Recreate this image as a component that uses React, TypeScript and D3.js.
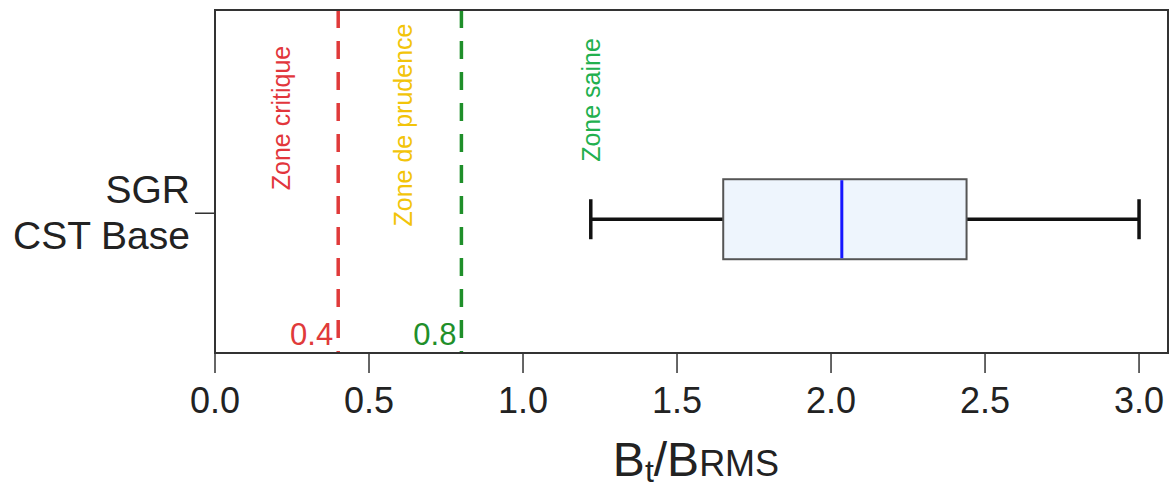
import React from 'react'
import * as d3 from 'd3'

// single box for SGR / CST Base
const category = ['SGR', 'CST Base']
const boxStats = [{ low: 1.22, q1: 1.65, median: 2.035, q3: 2.44, high: 3.0 }]

// reference points (limit / precautionary)
const refValues = [0.4, 0.8]
const refLabels = ['0.4', '0.8']
const refColors = ['#e03a3a', '#1f8f2a']

// zone names written vertically in the plot
const zoneNames = ['Zone critique', 'Zone de prudence', 'Zone saine']
const zonePos = [0.215, 0.61, 1.22]
const zoneColors = ['#e2363c', '#f2c40a', '#22b04e']

const xTicks = [0, 0.5, 1, 1.5, 2, 2.5, 3]

const W = 1170
const H = 490
const margin = { left: 215, right: 2, top: 10, bottom: 137 }
const font = 'Liberation Sans, Arial, sans-serif'

export default function App() {
  const x = d3.scaleLinear().domain([0, 3.094]).range([margin.left, W - margin.right])
  const y = d3.scaleLinear().domain([0, 1]).range([H - margin.bottom, margin.top])

  const plotTop = y(1)
  const plotBottom = y(0)
  const catY = y(0.39)
  const boxHalf = 40
  const s = boxStats[0]

  return (
    <svg width={W} height={H} viewBox={`0 0 ${W} ${H}`}
      style={{ position: 'absolute', left: 0, top: 0, background: '#fff', fontFamily: font }}>
      {/* dashed reference lines */}
      {refValues.map((v, i) => (
        <g key={'ref' + i}>
          <line x1={x(v)} x2={x(v)} y1={plotTop} y2={plotBottom}
            stroke={refColors[i]} strokeWidth={3.5} strokeDasharray="18,13" />
          <text x={x(v) - 5} y={plotBottom - 8} textAnchor="end" fontSize={31} fill={refColors[i]}>
            {refLabels[i]}
          </text>
        </g>
      ))}

      {/* zone labels */}
      {zoneNames.map((z, i) => {
        const cx = x(zonePos[i])
        const cy = i === 0 ? 118 : i === 1 ? 125 : 100
        return (
          <text key={z} transform={`translate(${cx},${cy}) rotate(-90)`} textAnchor="middle"
            fontSize={25} fill={zoneColors[i]} dy="0.35em">
            {z}
          </text>
        )
      })}

      {/* box plot */}
      <g>
        <line x1={x(s.low)} x2={x(s.q1)} y1={catY} y2={catY} stroke="#111" strokeWidth={3.5} />
        <line x1={x(s.q3)} x2={x(s.high)} y1={catY} y2={catY} stroke="#111" strokeWidth={3.5} />
        <line x1={x(s.low)} x2={x(s.low)} y1={catY - 20} y2={catY + 20} stroke="#111" strokeWidth={3.5} />
        <line x1={x(s.high)} x2={x(s.high)} y1={catY - 20} y2={catY + 20} stroke="#111" strokeWidth={3.5} />
        <rect x={x(s.q1)} y={catY - boxHalf} width={x(s.q3) - x(s.q1)} height={boxHalf * 2}
          fill="#eef5fd" stroke="#555" strokeWidth={2} />
        <line x1={x(s.median)} x2={x(s.median)} y1={catY - boxHalf + 1} y2={catY + boxHalf - 1}
          stroke="#1616ff" strokeWidth={3} />
      </g>

      {/* frame */}
      <rect x={margin.left} y={plotTop} width={W - margin.right - margin.left} height={plotBottom - plotTop}
        fill="none" stroke="#333" strokeWidth={2} />

      {/* y axis tick and label */}
      <line x1={margin.left - 20} x2={margin.left} y1={catY - 6} y2={catY - 6} stroke="#333" strokeWidth={1.5} />
      <text x={190} y={203} textAnchor="end" fontSize={39} fill="#222">{category[0]}</text>
      <text x={190} y={249} textAnchor="end" fontSize={39} fill="#222">{category[1]}</text>

      {/* x axis */}
      {xTicks.map(t => (
        <g key={t}>
          <line x1={x(t)} x2={x(t)} y1={plotBottom} y2={plotBottom + 20} stroke="#333" strokeWidth={1.5} />
          <text x={x(t)} y={413} textAnchor="middle" fontSize={36} fill="#222">{d3.format('.1f')(t)}</text>
        </g>
      ))}

      {/* x axis title */}
      <text x={696} y={476} textAnchor="middle" fontSize={48} fill="#222">
        B<tspan fontSize={32} dy={6}>t</tspan><tspan dy={-6}>/B</tspan><tspan fontSize={36}>RMS</tspan>
      </text>
    </svg>
  )
}
